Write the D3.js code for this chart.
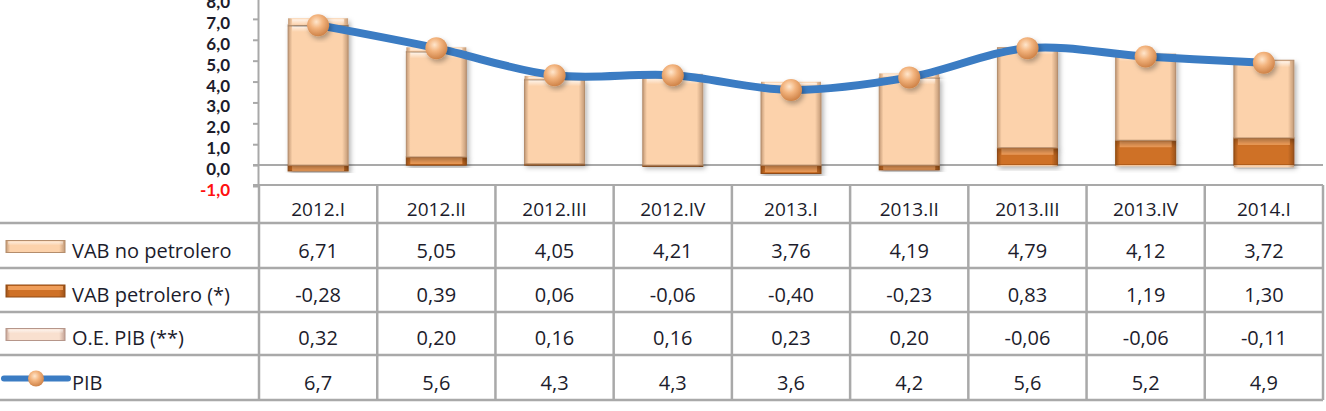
<!DOCTYPE html>
<html>
<head>
<meta charset="utf-8">
<script src="https://cdn.jsdelivr.net/npm/d3@7"></script>
<style>
  html, body { margin: 0; padding: 0; background: #fff; }
  svg { display: block; font-family: "Open Sans", Lato, sans-serif; }
</style>
</head>
<body>
<svg id="chart" width="1326" height="411"></svg>
<script>
// Data
const categories = ['2012.I', '2012.II', '2012.III', '2012.IV', '2013.I', '2013.II', '2013.III', '2013.IV', '2014.I'];
const vabNoPetrolero = [6.71, 5.05, 4.05, 4.21, 3.76, 4.19, 4.79, 4.12, 3.72];
const vabPetrolero = [-0.28, 0.39, 0.06, -0.06, -0.40, -0.23, 0.83, 1.19, 1.30];
const oePib = [0.32, 0.20, 0.16, 0.16, 0.23, 0.20, -0.06, -0.06, -0.11];
const pib = [6.7, 5.6, 4.3, 4.3, 3.6, 4.2, 5.6, 5.2, 4.9];
const yTicks = [-1, 0, 1, 2, 3, 4, 5, 6, 7, 8];
const rowLabels = ['VAB no petrolero', 'VAB petrolero (*)', 'O.E. PIB (**)', 'PIB'];

// Layout
const AXIS_X = 258;
const PLOT_RIGHT = 1323;
const ROW_LINES = [185, 223, 268, 312, 355, 400];
const GRID = '#a9a9a9';
const TEXT = '#1c1c2c';

// Comma decimals and a plain hyphen for negatives, as in the source
const locale = d3.formatLocale({ decimal: ',', thousands: '.', grouping: [3], currency: ['', ''], minus: '-' });
const fmt1 = locale.format('.1f');
const fmt2 = locale.format('.2f');

const svg = d3.select('#chart');
const defs = svg.append('defs');

const x = d3.scaleBand().domain(categories).range([AXIS_X + 1, PLOT_RIGHT]);
const y = d3.scaleLinear().domain([-1, 8]).range([186, -2]);
const barW = 60;

// Series styles (horizontal bevel gradient)
const styles = {
  pet: { edge: '#9c5218', mid: '#cf7127', hi: '#f6a966', stroke: '#8f4a14' },
  nop: { edge: '#c39a77', mid: '#fcd2ab', hi: '#fff1e2', stroke: '#b48d6c' },
  oe: { edge: '#c4a396', mid: '#f9e0cf', hi: '#fff6ef', stroke: '#b6968a' }
};

Object.entries(styles).forEach(([key, s]) => {
  const g = defs.append('linearGradient').attr('id', 'grad-' + key)
    .attr('x1', 0).attr('x2', 1).attr('y1', 0).attr('y2', 0);
  [[0, s.edge], [0.07, s.mid], [0.9, s.mid], [1, s.edge]].forEach(([o, c]) => {
    g.append('stop').attr('offset', o).attr('stop-color', c);
  });
});

const hiGrad = defs.append('linearGradient').attr('id', 'grad-hi')
  .attr('x1', 0).attr('x2', 0).attr('y1', 0).attr('y2', 1);
hiGrad.append('stop').attr('offset', 0).attr('stop-color', '#fff').attr('stop-opacity', 0.75);
hiGrad.append('stop').attr('offset', 1).attr('stop-color', '#fff').attr('stop-opacity', 0);

const ball = defs.append('radialGradient').attr('id', 'grad-ball')
  .attr('cx', 0.42).attr('cy', 0.35).attr('r', 0.65);
ball.append('stop').attr('offset', 0).attr('stop-color', '#ffe6cc');
ball.append('stop').attr('offset', 0.45).attr('stop-color', '#f3b47e');
ball.append('stop').attr('offset', 1).attr('stop-color', '#cf8348');

const shadow = defs.append('filter').attr('id', 'shadow')
  .attr('x', -0.2).attr('y', -0.2).attr('width', 1.5).attr('height', 1.5);
shadow.append('feDropShadow').attr('dx', 2).attr('dy', 3)
  .attr('stdDeviation', 2.5).attr('flood-color', '#000').attr('flood-opacity', 0.3);

// Y axis
const yAxis = svg.append('g')
  .attr('transform', `translate(${AXIS_X},0)`)
  .call(d3.axisLeft(y).tickValues(yTicks).tickSize(5).tickSizeOuter(0).tickPadding(23).tickFormat(fmt1));
yAxis.select('.domain').attr('stroke', GRID).attr('stroke-width', 2);
yAxis.selectAll('.tick line').attr('stroke', GRID).attr('stroke-width', 2);
yAxis.selectAll('.tick text')
  .attr('y', 4)
  .attr('font-size', 17)
  .attr('font-weight', 'bold')
  .attr('font-family', 'Lato, sans-serif')
  .attr('fill', d => d < 0 ? '#ff1010' : TEXT);

// Zero line
svg.append('line')
  .attr('x1', AXIS_X - 5).attr('x2', PLOT_RIGHT)
  .attr('y1', y(0)).attr('y2', y(0))
  .attr('stroke', GRID).attr('stroke-width', 2);

// Stacked bars
const rows = categories.map((c, i) => ({
  cat: c, pet: vabPetrolero[i], nop: vabNoPetrolero[i], oe: oePib[i]
}));
const stack = d3.stack().keys(['pet', 'nop', 'oe']).offset(d3.stackOffsetDiverging);
const layers = stack(rows);

const bars = svg.append('g').attr('class', 'bars');
layers.forEach((layer) => {
  const key = layer.key;
  // O.E. sits flush on the non-oil part, so it reuses that fill in the bars
  const fillKey = key === 'oe' ? 'nop' : key;
  layer.forEach((seg) => {
    const top = y(Math.max(seg[0], seg[1]));
    const bottom = y(Math.min(seg[0], seg[1]));
    const h = bottom - top;
    if (h <= 0) return;
    const bx = x(seg.data.cat) + (x.bandwidth() - barW) / 2;
    const g = bars.append('g');
    g.append('rect')
      .attr('x', bx).attr('y', top).attr('width', barW).attr('height', h)
      .attr('fill', `url(#grad-${fillKey})`)
      .attr('stroke', key === 'oe' ? 'none' : styles[key].stroke).attr('stroke-width', 1)
      .attr('filter', 'url(#shadow)');
    if (key !== 'oe' || seg[1] > 0) {
      g.append('rect')
        .attr('x', bx + 4).attr('y', top + 1).attr('width', barW - 8).attr('height', Math.min(6, h - 1))
        .attr('fill', key === 'pet' ? styles.pet.hi : 'url(#grad-hi)')
        .attr('opacity', key === 'pet' ? 0.8 : 1);
    }
  });
});

// PIB line
const cx = d => x(d) + x.bandwidth() / 2;
const line = d3.line()
  .x((d, i) => cx(categories[i]))
  .y(d => y(d))
  .curve(d3.curveCatmullRom.alpha(0.5));

svg.append('path')
  .datum(pib)
  .attr('d', line)
  .attr('fill', 'none')
  .attr('stroke', '#3b7cc3')
  .attr('stroke-width', 8)
  .attr('stroke-linecap', 'round');

svg.append('g').selectAll('circle')
  .data(pib)
  .join('circle')
    .attr('cx', (d, i) => cx(categories[i]))
    .attr('cy', d => y(d))
    .attr('r', 11)
    .attr('fill', 'url(#grad-ball)')
    .attr('filter', 'url(#shadow)');

// Data table
const table = svg.append('g').attr('class', 'table');
const colEdges = d3.range(categories.length + 1).map(i => AXIS_X + 1 + i * x.bandwidth());

table.append('line')
  .attr('x1', AXIS_X - 5).attr('x2', PLOT_RIGHT)
  .attr('y1', ROW_LINES[0]).attr('y2', ROW_LINES[0])
  .attr('stroke', GRID).attr('stroke-width', 2);

table.selectAll('line.row')
  .data(ROW_LINES.slice(1))
  .join('line')
    .attr('class', 'row')
    .attr('x1', 0).attr('x2', PLOT_RIGHT)
    .attr('y1', d => d).attr('y2', d => d)
    .attr('stroke', GRID).attr('stroke-width', 2.5);

table.selectAll('line.col')
  .data(colEdges)
  .join('line')
    .attr('class', 'col')
    .attr('x1', d => d).attr('x2', d => d)
    .attr('y1', ROW_LINES[0]).attr('y2', ROW_LINES[ROW_LINES.length - 1])
    .attr('stroke', GRID).attr('stroke-width', 2.5);

// Header
table.selectAll('text.head')
  .data(categories)
  .join('text')
    .attr('class', 'head')
    .attr('x', d => cx(d))
    .attr('y', 216)
    .attr('text-anchor', 'middle')
    .attr('font-size', 19)
    .attr('fill', TEXT)
    .text(d => d);

// Body rows
const series = [
  { label: rowLabels[0], values: vabNoPetrolero, f: fmt2, swatch: 'nop' },
  { label: rowLabels[1], values: vabPetrolero, f: fmt2, swatch: 'pet' },
  { label: rowLabels[2], values: oePib, f: fmt2, swatch: 'oe' },
  { label: rowLabels[3], values: pib, f: fmt1, swatch: 'line' }
];

series.forEach((s, r) => {
  const base = ROW_LINES[r + 2] - 10;
  const mid = (ROW_LINES[r + 1] + ROW_LINES[r + 2]) / 2 + 1;
  table.selectAll(null)
    .data(s.values)
    .join('text')
      .attr('x', (d, i) => cx(categories[i]))
      .attr('y', base)
      .attr('text-anchor', 'middle')
      .attr('font-size', 20)
      .attr('fill', TEXT)
      .text(d => s.f(d));

  table.append('text')
    .attr('x', 72).attr('y', base)
    .attr('font-size', 20)
    .attr('fill', TEXT)
    .text(s.label);

  if (s.swatch === 'line') {
    table.append('line')
      .attr('x1', 4).attr('x2', 68).attr('y1', mid).attr('y2', mid)
      .attr('stroke', '#3b7cc3').attr('stroke-width', 6).attr('stroke-linecap', 'round');
    table.append('circle')
      .attr('cx', 36).attr('cy', mid).attr('r', 8)
      .attr('fill', 'url(#grad-ball)');
  } else {
    table.append('rect')
      .attr('x', 6).attr('y', mid - 6).attr('width', 59).attr('height', 12)
      .attr('fill', `url(#grad-${s.swatch})`)
      .attr('stroke', styles[s.swatch].stroke).attr('stroke-width', 1);
    table.append('rect')
      .attr('x', 8).attr('y', mid - 5).attr('width', 55).attr('height', 4)
      .attr('fill', s.swatch === 'pet' ? styles.pet.hi : 'url(#grad-hi)')
      .attr('opacity', 0.8);
  }
});
</script>
</body>
</html>
